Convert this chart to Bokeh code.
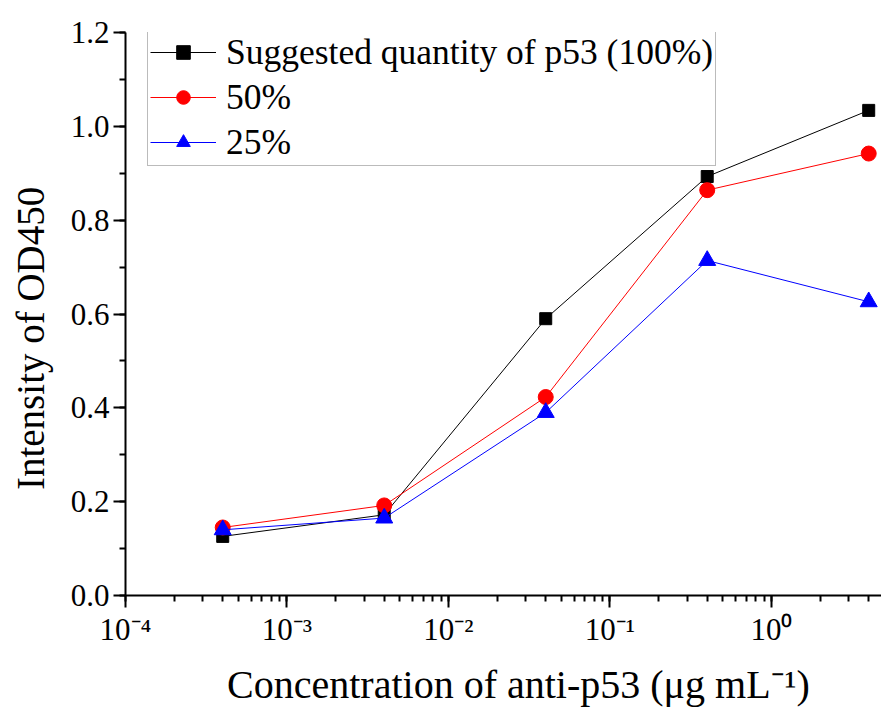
from bokeh.plotting import figure
from bokeh.models import (Range1d, LogTicker, SingleIntervalTicker, CustomJSTickFormatter,
                          Legend, LegendItem)
from bokeh.embed import file_html
from bokeh.resources import INLINE

# ---- data ----
conc = [4e-4, 4e-3, 4e-2, 4e-1, 4.0]
od_100 = [0.126, 0.172, 0.590, 0.893, 1.034]
od_50 = [0.145, 0.192, 0.423, 0.864, 0.942]
od_25 = [0.140, 0.165, 0.390, 0.714, 0.626]
series_names = ["Suggested quantity of p53 (100%)", "50%", "25%"]
x_tick_exps = [-4, -3, -2, -1, 0]
x_tick_labels = ["10\u207b\u2074", "10\u207b\u00b3", "10\u207b\u00b2", "10\u207b\u00b9", "10\u2070"]
x_title = "Concentration of anti-p53 (\u03bcg mL\u207b\u00b9)"
y_title = "Intensity of OD450"

FONT = "Liberation Serif"
NBSP = "\u00a0"

p = figure(width=881, height=709, x_axis_type="log",
           x_range=Range1d(1e-4, 4.8), y_range=Range1d(0, 1.20001),
           output_backend="svg", toolbar_location=None,
           min_border_left=125, min_border_right=0, min_border_top=32, min_border_bottom=114)
p.outline_line_color = None
p.xgrid.visible = False
p.ygrid.visible = False
p.background_fill_color = "white"
p.border_fill_color = "white"

# axes
for ax in (p.xaxis[0], p.yaxis[0]):
    ax.axis_line_width = 2
    ax.axis_line_color = "black"
    ax.major_tick_line_width = 2
    ax.minor_tick_line_width = 2
    ax.major_tick_in = 0
    ax.major_tick_out = 12
    ax.minor_tick_in = 0
    ax.minor_tick_out = 6
    ax.major_label_text_font = FONT
    ax.major_label_text_font_size = "31px"
    ax.major_label_text_color = "black"
    ax.major_label_standoff = 4
    ax.axis_label_text_font = FONT
    ax.axis_label_text_font_style = "normal"
    ax.axis_label_text_color = "black"

p.xaxis.ticker = LogTicker(num_minor_ticks=10)
p.xaxis.formatter = CustomJSTickFormatter(args=dict(exps=x_tick_exps, labels=x_tick_labels), code="""
const e = Math.round(Math.log10(tick));
const i = exps.indexOf(e);
return i >= 0 ? labels[i] : "";
""")
p.yaxis.ticker = SingleIntervalTicker(interval=0.2, num_minor_ticks=2)
p.yaxis.formatter = CustomJSTickFormatter(code="return tick.toFixed(1);")

# axis titles (non-breaking spaces nudge them along the axis as in the reference)
p.xaxis.axis_label = NBSP * 3 + x_title
p.xaxis.axis_label_text_font_size = "40px"
p.xaxis.axis_label_standoff = 12
p.yaxis.axis_label = y_title + NBSP * 5
p.yaxis.axis_label_text_font_size = "39px"
p.yaxis.axis_label_standoff = 16

# series
l1 = p.line(conc, od_100, line_color="black", line_width=1)
s1 = p.scatter(conc, od_100, marker="square", size=12, fill_color="black", line_color="black")
l2 = p.line(conc, od_50, line_color="#ff0000", line_width=1)
s2 = p.scatter(conc, od_50, marker="circle", size=15, fill_color="#ff0000", line_color="#ff0000")
l3 = p.line(conc, od_25, line_color="#0000ff", line_width=1)
s3 = p.scatter(conc, od_25, marker="triangle", size=17, fill_color="#0000ff", line_color="#0000ff")

legend = Legend(items=[
    LegendItem(label=series_names[0], renderers=[l1, s1]),
    LegendItem(label=series_names[1], renderers=[l2, s2]),
    LegendItem(label=series_names[2], renderers=[l3, s3]),
], location=(22, 429))
legend.title = NBSP
legend.title_text_font_size = "1px"
legend.title_standoff = 14
legend.label_text_font = FONT
legend.label_text_font_size = "35.5px"
legend.label_text_color = "black"
legend.glyph_width = 66
legend.glyph_height = 34
legend.label_height = 34
legend.label_standoff = 10
legend.spacing = 3
legend.padding = 2
legend.margin = 0
legend.border_line_color = "#777777"
legend.border_line_width = 1
legend.background_fill_alpha = 1
p.add_layout(legend, "center")

open("out.html", "w").write(file_html(p, INLINE))
